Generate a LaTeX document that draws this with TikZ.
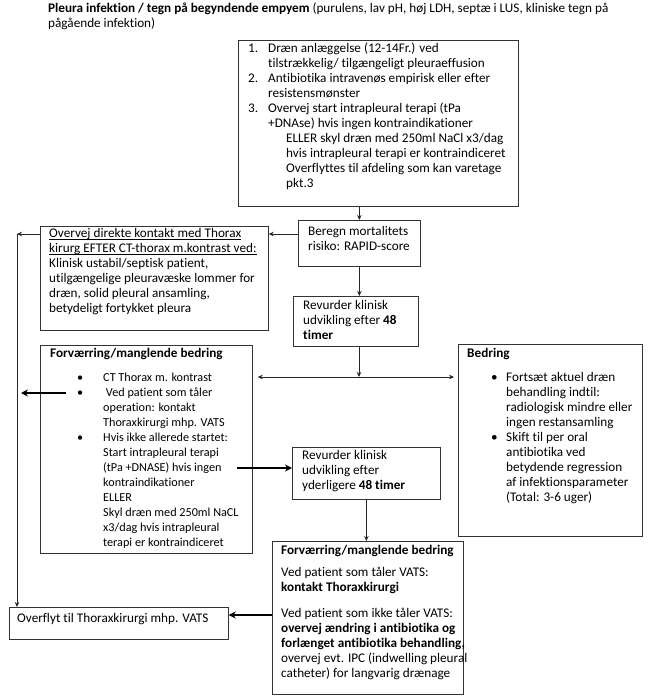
\documentclass[tikz,border=0pt]{standalone}
\usepackage{fontspec}
\setmainfont{Carlito}[Ligatures=NoCommon]
\usetikzlibrary{arrows.meta}
\newcommand\ulx[1]{\underline{\smash{#1}}}
\begin{document}
\begin{tikzpicture}[x=1pt,y=-1pt,
  bx/.style={draw=black!80, line width=0.7pt, anchor=north west, inner sep=0pt},
  txt/.style={anchor=north west, inner sep=0pt, align=left, font=\fontsize{13.2}{15}\selectfont},
  smalltxt/.style={txt, font=\fontsize{12.2}{15}\selectfont},
  arr/.style={draw=black!85, line width=0.8pt, -{Stealth[length=5pt,width=4.5pt]}},
  botharr/.style={draw=black!85, line width=0.8pt, {Stealth[length=5pt,width=4.5pt]}-{Stealth[length=5pt,width=4.5pt]}},
  heavyarr/.style={draw=black, line width=1.8pt, -{Stealth[length=7pt,width=7pt]}}]
\useasboundingbox (0,0) rectangle (649,700);
\fill[white] (0,0) rectangle (649,700);

% boxes
\node[bx, minimum width=280pt, minimum height=166pt] (top) at (238,40) {};
\node[bx, minimum width=122pt, minimum height=46pt] (ber) at (298,220) {};
\node[bx, minimum width=228pt, minimum height=104pt] (ovj) at (40,226) {};
\node[bx, minimum width=125pt, minimum height=50pt] (rev1) at (293,296) {};
\node[bx, minimum width=212pt, minimum height=208pt] (forv1) at (40,345) {};
\node[bx, minimum width=184pt, minimum height=192pt] (bed) at (458,344) {};
\node[bx, minimum width=148pt, minimum height=52pt] (rev2) at (292,447) {};
\node[bx, minimum width=191pt, minimum height=153pt] (forv2) at (272,541) {};
\node[bx, minimum width=219pt, minimum height=32pt] (ovf) at (9,607) {};

% texts
\node[txt] (ttitle) at (48,2) {\strut\textbf{Pleura infektion / tegn på begyndende empyem} (purulens, lav pH, høj LDH, septæ i LUS, kliniske tegn på\\pågående infektion)};

\node[txt] (ttop) at (248,42) {\strut\makebox[20pt][l]{1.}Dræn anlæggelse (12-14Fr.) ved\\
\hspace*{20pt}tilstrækkelig/ tilgængeligt pleuraeffusion\\
\makebox[20pt][l]{2.}Antibiotika intravenøs empirisk eller efter\\
\hspace*{20pt}resistensmønster\\
\makebox[20pt][l]{3.}Overvej start intrapleural terapi (tPa\\
\hspace*{20pt}+DNAse) hvis ingen kontraindikationer\\
\hspace*{38pt}ELLER skyl dræn med 250ml NaCl x3/dag\\
\hspace*{38pt}hvis intrapleural terapi er kontraindiceret\\
\hspace*{38pt}Overflyttes til afdeling som kan varetage\\
\hspace*{38pt}pkt.3};

\node[txt] (tber) at (308,225) {\strut Beregn mortalitets\\risiko: RAPID-score};

\node[txt] (tovj) at (49,227) {\strut\ulx{Overvej direkte kontakt med Thorax}\\
\ulx{kirurg EFTER CT-thorax m.kontrast ved:}\\
Klinisk ustabil/septisk patient,\\
utilgængelige pleuravæske lommer for\\
dræn, solid pleural ansamling,\\
betydeligt fortykket pleura};

\node[txt] (trev1) at (303,299) {\strut Revurder klinisk\\udvikling efter \textbf{48}\\\textbf{timer}};

\node[txt] (tforv1h) at (50,347) {\strut\textbf{Forværring/manglende bedring}};
\node[smalltxt] (tforv1) at (50,371) {\strut
\hspace*{27pt}\makebox[26pt][l]{\textbullet}CT Thorax m. kontrast\\
\hspace*{27pt}\makebox[26pt][l]{\textbullet}\ Ved patient som tåler\\
\hspace*{53pt}operation: kontakt\\
\hspace*{53pt}Thoraxkirurgi mhp. VATS\\
\hspace*{27pt}\makebox[26pt][l]{\textbullet}Hvis ikke allerede startet:\\
\hspace*{53pt}Start intrapleural terapi\\
\hspace*{53pt}(tPa +DNASE) hvis ingen\\
\hspace*{53pt}kontraindikationer\\
\hspace*{53pt}ELLER\\
\hspace*{53pt}Skyl dræn med 250ml NaCL\\
\hspace*{53pt}x3/dag hvis intrapleural\\
\hspace*{53pt}terapi er kontraindiceret};

\node[txt] (tbed) at (467,347) {\strut\textbf{Bedring}\\[9pt]
\hspace*{24pt}\makebox[15pt][l]{\textbullet}Fortsæt aktuel dræn\\
\hspace*{39pt}behandling indtil:\\
\hspace*{39pt}radiologisk mindre eller\\
\hspace*{39pt}ingen restansamling\\
\hspace*{24pt}\makebox[15pt][l]{\textbullet}Skift til per oral\\
\hspace*{39pt}antibiotika ved\\
\hspace*{39pt}betydende regression\\
\hspace*{39pt}af infektionsparameter\\
\hspace*{39pt}(Total: 3-6 uger)};

\node[txt] (trev2) at (302,449) {\strut Revurder klinisk\\udvikling efter\\yderligere \textbf{48 timer}};

\node[txt] (tforv2) at (281,544) {\strut\textbf{Forværring/manglende bedring}\\[7pt]
Ved patient som tåler VATS:\\
\textbf{kontakt Thoraxkirurgi}\\[11pt]
Ved patient som ikke tåler VATS:\\
\textbf{overvej ændring i antibiotika og}\\
\textbf{forlænget antibiotika behandling,}\\
overvej evt. IPC (indwelling pleural\\
catheter) for langvarig drænage};

\node[txt] (tovf) at (17,612) {\strut Overflyt til Thoraxkirurgi mhp. VATS};

% connectors
\coordinate (ya) at (0,234);
\coordinate (lc) at (17,234);
\coordinate (mid) at (359,377);
\coordinate (t1s) at (66,393);
\coordinate (t1e) at (21,393);
\coordinate (t2s) at (237,468);
\coordinate (y3) at (0,615);

\draw[arr] (ber.north |- top.south) -- (ber.north);
\draw[arr] (ber.south) -- (ber.south |- rev1.north);
\draw[arr] (ber.west |- ya) -- (ovj.east |- ya);
\draw[arr] (ovj.west |- lc) -- (lc);
\draw[arr] (lc) -- (lc |- ovf.north);
\draw[arr] (rev1.south -| mid) -- (mid);
\draw[botharr, shorten <=5pt, shorten >=4pt] (forv1.east |- mid) -- (bed.west |- mid);
\draw[heavyarr] (t1s) -- (t1e);
\draw[heavyarr] (t2s) -- (rev2.west |- t2s);
\draw[arr] (rev2.south) -- (rev2.south |- forv2.north);
\draw[heavyarr] (forv2.west |- y3) -- (ovf.east |- y3);
\end{tikzpicture}
\end{document}
